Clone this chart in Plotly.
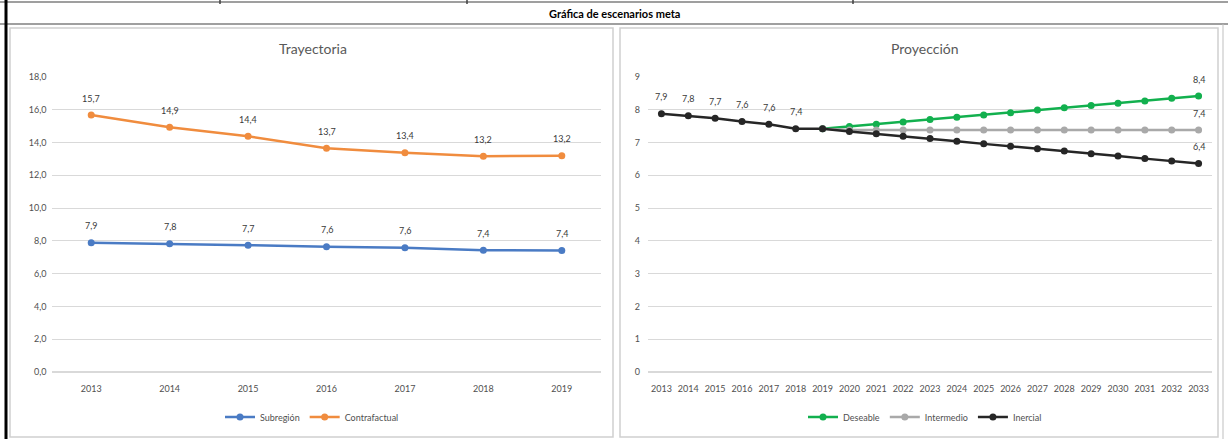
import plotly.graph_objects as go

# ---- data ----
years_hist = ["2013", "2014", "2015", "2016", "2017", "2018", "2019"]
subregion = [7.88, 7.82, 7.74, 7.64, 7.58, 7.43, 7.42]
contrafactual = [15.68, 14.93, 14.38, 13.65, 13.38, 13.17, 13.19]

years_proj = [str(y) for y in range(2013, 2034)]
deseable = [None, None, None, None, None, None, 7.42,
            7.49, 7.56, 7.63, 7.70, 7.77, 7.84, 7.91, 7.99, 8.06, 8.13, 8.20, 8.27, 8.35, 8.42]
intermedio = [None, None, None, None, None, None, 7.42,
              7.38, 7.38, 7.38, 7.38, 7.38, 7.38, 7.38, 7.38, 7.38, 7.38, 7.38, 7.38, 7.38, 7.38]
inercial = [7.88, 7.82, 7.74, 7.64, 7.56, 7.42, 7.42,
            7.34, 7.27, 7.19, 7.12, 7.04, 6.96, 6.89, 6.81, 6.74, 6.66, 6.59, 6.51, 6.44, 6.36]


def lbl(v):
    return f"{v:.1f}".replace(".", ",")


FONT = "Lato, 'Open Sans', sans-serif"
LBL = dict(size=9, color="#3A3A3A", family=FONT)
W, H = 1228, 439


def px(x):
    return x / W


def py(y):
    return 1 - y / H


fig = go.Figure()


def add_series(x, y, name, color, xa, ya, leg):
    fig.add_trace(go.Scatter(x=x, y=y, name=name, mode="lines+markers",
                             line=dict(color=color, width=2.5), marker=dict(size=7),
                             xaxis=xa, yaxis=ya, legend=leg))


def add_labels(y, idx, xa, ya):
    # category axis: position by category index
    for i in idx:
        fig.add_annotation(x=i, y=y[i], xref=xa, yref=ya, text=lbl(y[i]),
                           showarrow=False, yshift=17, font=LBL,
                           xanchor="center", yanchor="middle")


add_series(years_hist, subregion, "Subregión", "#4A7BC4", "x", "y", "legend")
add_series(years_hist, contrafactual, "Contrafactual", "#F08C3E", "x", "y", "legend")
add_labels(subregion, range(len(years_hist)), "x", "y")
add_labels(contrafactual, range(len(years_hist)), "x", "y")

last = len(years_proj) - 1
add_series(years_proj, deseable, "Deseable", "#12B04E", "x2", "y2", "legend2")
add_series(years_proj, intermedio, "Intermedio", "#A9A9A9", "x2", "y2", "legend2")
add_series(years_proj, inercial, "Inercial", "#262626", "x2", "y2", "legend2")
add_labels(deseable, [last], "x2", "y2")
add_labels(intermedio, [last], "x2", "y2")
add_labels(inercial, [0, 1, 2, 3, 4, 5, last], "x2", "y2")

tick = dict(size=9, color="#505050", family=FONT)
grid = "#D9D9D9"

fig.update_layout(
    width=W, height=H,
    margin=dict(l=0, r=0, t=0, b=0, autoexpand=False),
    paper_bgcolor="white", plot_bgcolor="white",
    separators=",.",
    font=dict(family=FONT),
    xaxis=dict(domain=[px(52), px(601)], type="category", categoryorder="array",
               categoryarray=years_hist, range=[-0.5, len(years_hist) - 0.5],
               showgrid=False, tickfont=tick,
               ticks="", showline=False, anchor="y", ticklabelstandoff=10),
    yaxis=dict(domain=[py(372), py(77)], range=[0, 18], dtick=2, tickformat=".1f",
               showgrid=True, gridcolor=grid, zeroline=True, zerolinecolor=grid,
               tickfont=tick, anchor="x", ticksuffix="  "),
    xaxis2=dict(domain=[px(648), px(1212)], type="category", categoryorder="array",
                categoryarray=years_proj, range=[-0.5, len(years_proj) - 0.5],
                showgrid=False, tickfont=tick,
                ticks="", anchor="y2", tickangle=0, ticklabelstandoff=10),
    yaxis2=dict(domain=[py(372), py(77)], range=[0, 9], dtick=1,
                showgrid=True, gridcolor=grid, zeroline=True, zerolinecolor=grid,
                tickfont=tick, anchor="x2", ticksuffix="   "),
    legend=dict(orientation="h", x=px(312), xanchor="center", y=py(417), yanchor="middle",
                font=dict(size=9, color="#505050", family=FONT), itemwidth=30,
                bgcolor="rgba(0,0,0,0)"),
    legend2=dict(orientation="h", x=px(925), xanchor="center", y=py(417), yanchor="middle",
                 font=dict(size=9, color="#505050", family=FONT), itemwidth=30,
                 bgcolor="rgba(0,0,0,0)"),
    showlegend=True,
)

# titles and header
for tx, ty, t, f in [(313, 48, "Trayectoria", dict(size=14, color="#595959", family=FONT)),
                     (925, 48, "Proyección", dict(size=14, color="#595959", family=FONT)),
                     (614, 14, "<b>Gráfica de escenarios meta</b>", dict(size=11, color="black", family=FONT))]:
    fig.add_annotation(x=px(tx), y=py(ty), xref="paper", yref="paper", text=t, showarrow=False,
                       xanchor="center", yanchor="middle", font=f)

# sheet frame lines
P = dict(xref="paper", yref="paper")
shapes = [
    dict(type="line", x0=px(0), x1=px(1228), y0=py(2), y1=py(2), line=dict(color="#7F7F7F", width=1.5), **P),
    dict(type="line", x0=px(0), x1=px(1228), y0=py(24), y1=py(24), line=dict(color="#7F7F7F", width=1.5), **P),
    dict(type="line", x0=px(6), x1=px(6), y0=py(0), y1=py(439), line=dict(color="black", width=3), **P),
    dict(type="line", x0=px(1223), x1=px(1223), y0=py(24), y1=py(439), line=dict(color="#BFBFBF", width=1), **P),
    dict(type="line", x0=px(220), x1=px(220), y0=py(0), y1=py(4), line=dict(color="#404040", width=1.5), **P),
    dict(type="line", x0=px(467), x1=px(467), y0=py(0), y1=py(4), line=dict(color="#404040", width=1.5), **P),
    dict(type="line", x0=px(853), x1=px(853), y0=py(0), y1=py(4), line=dict(color="#404040", width=1.5), **P),
    dict(type="rect", x0=px(10), x1=px(613), y0=py(437), y1=py(28), line=dict(color="#D0D0D0", width=1.5), **P),
    dict(type="rect", x0=px(620), x1=px(1218), y0=py(437), y1=py(28), line=dict(color="#D0D0D0", width=1.5), **P),
]
fig.update_layout(shapes=shapes)

fig.write_html("out.html", config={"displayModeBar": False},
               post_script="document.body.style.margin='0';document.body.style.overflow='hidden';")
